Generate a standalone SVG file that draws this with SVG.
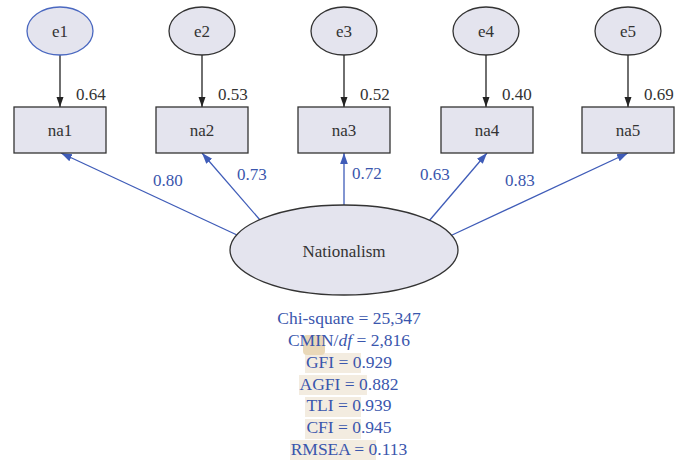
<svg xmlns="http://www.w3.org/2000/svg" width="675" height="460" viewBox="0 0 675 460">
<defs>
<style>
.nd{fill:#e4e4ee;stroke:#333;stroke-width:1.3}
.lb{font-family:"Liberation Serif",serif;font-size:17px;fill:#333;text-anchor:middle}
.num{font-family:"Liberation Serif",serif;font-size:17px;fill:#333}
.bnum{font-family:"Liberation Serif",serif;font-size:17px;fill:#3a56ad}
.fit{font-family:"Liberation Serif",serif;font-size:17.5px;fill:#3a56ad;text-anchor:middle}
.ek{stroke:#222;stroke-width:1.3;fill:none}
.eb{stroke:#3f5cb8;stroke-width:1.3;fill:none}
.hl{fill:#f3ece0}
</style>
<marker id="ak" viewBox="0 0 10 10" refX="10" refY="5" markerWidth="10" markerHeight="10" markerUnits="userSpaceOnUse" orient="auto"><path d="M0,1.5 L10,5 L0,8.5 Z" fill="#222"/></marker>
<marker id="ab" viewBox="0 0 10 10" refX="10" refY="5" markerWidth="11" markerHeight="11" markerUnits="userSpaceOnUse" orient="auto"><path d="M0,1.5 L10,5 L0,8.5 Z" fill="#3f5cb8"/></marker>
</defs>
<rect width="675" height="460" fill="#fff"/>

<g id="highlights">
<rect class="hl" x="305" y="353" width="56" height="20"/>
<rect class="hl" x="299" y="375" width="68" height="20"/>
<rect class="hl" x="305" y="397" width="56" height="20"/>
<rect class="hl" x="305" y="419" width="56" height="20"/>
<rect class="hl" x="290" y="440" width="86" height="20"/>
<rect x="303" y="335" width="22" height="20" rx="4" fill="#e9d8b8"/>
</g>

<g id="connectors">
<line class="ek" x1="60" y1="55" x2="60" y2="107" marker-end="url(#ak)"/>
<line class="ek" x1="202" y1="55" x2="202" y2="107" marker-end="url(#ak)"/>
<line class="ek" x1="344" y1="55" x2="344" y2="107" marker-end="url(#ak)"/>
<line class="ek" x1="486" y1="55" x2="486" y2="107" marker-end="url(#ak)"/>
<line class="ek" x1="628" y1="55" x2="628" y2="107" marker-end="url(#ak)"/>
<line class="eb" x1="237" y1="235" x2="61" y2="153" marker-end="url(#ab)"/>
<line class="eb" x1="260" y1="220" x2="202" y2="153" marker-end="url(#ab)"/>
<line class="eb" x1="344" y1="205" x2="344" y2="153" marker-end="url(#ab)"/>
<line class="eb" x1="429" y1="221" x2="487" y2="153" marker-end="url(#ab)"/>
<line class="eb" x1="450" y1="236" x2="628" y2="153" marker-end="url(#ab)"/>
</g>

<g id="e1"><ellipse cx="60" cy="31" rx="33" ry="24" fill="#e4e4ee" stroke="#4a68c0" stroke-width="1.3"/><text class="lb" x="60" y="37">e1</text></g>
<g id="e2"><ellipse class="nd" cx="202" cy="31" rx="33" ry="24"/><text class="lb" x="202" y="37">e2</text></g>
<g id="e3"><ellipse class="nd" cx="344" cy="31" rx="33" ry="24"/><text class="lb" x="344" y="37">e3</text></g>
<g id="e4"><ellipse class="nd" cx="486" cy="31" rx="33" ry="24"/><text class="lb" x="486" y="37">e4</text></g>
<g id="e5"><ellipse class="nd" cx="628" cy="31" rx="33" ry="24"/><text class="lb" x="628" y="37">e5</text></g>

<g id="na1"><rect class="nd" x="14" y="107" width="92" height="46"/><text class="lb" x="60" y="136">na1</text></g>
<g id="na2"><rect class="nd" x="156" y="107" width="92" height="46"/><text class="lb" x="202" y="136">na2</text></g>
<g id="na3"><rect class="nd" x="298" y="107" width="92" height="46"/><text class="lb" x="344" y="136">na3</text></g>
<g id="na4"><rect class="nd" x="441" y="107" width="92" height="46"/><text class="lb" x="487" y="136">na4</text></g>
<g id="na5"><rect class="nd" x="582" y="107" width="92" height="46"/><text class="lb" x="628" y="136">na5</text></g>

<g id="nationalism"><ellipse class="nd" cx="344" cy="250" rx="114" ry="45"/><text class="lb" x="344" y="257">Nationalism</text></g>

<g id="labels">
<text class="num" x="76" y="100">0.64</text>
<text class="num" x="218" y="100">0.53</text>
<text class="num" x="360" y="100">0.52</text>
<text class="num" x="502" y="100">0.40</text>
<text class="num" x="644" y="100">0.69</text>
<text class="bnum" x="153" y="186">0.80</text>
<text class="bnum" x="237" y="180">0.73</text>
<text class="bnum" x="352" y="179">0.72</text>
<text class="bnum" x="420" y="180">0.63</text>
<text class="bnum" x="505" y="186">0.83</text>
</g>

<g id="fit">
<text class="fit" x="349" y="324">Chi-square = 25,347</text>
<text class="fit" x="349" y="346">CMIN/<tspan font-style="italic">df</tspan> = 2,816</text>
<text class="fit" x="349" y="368">GFI = 0.929</text>
<text class="fit" x="349" y="390">AGFI = 0.882</text>
<text class="fit" x="349" y="411">TLI = 0.939</text>
<text class="fit" x="349" y="433">CFI = 0.945</text>
<text class="fit" x="349" y="455">RMSEA = 0.113</text>
</g>
</svg>
